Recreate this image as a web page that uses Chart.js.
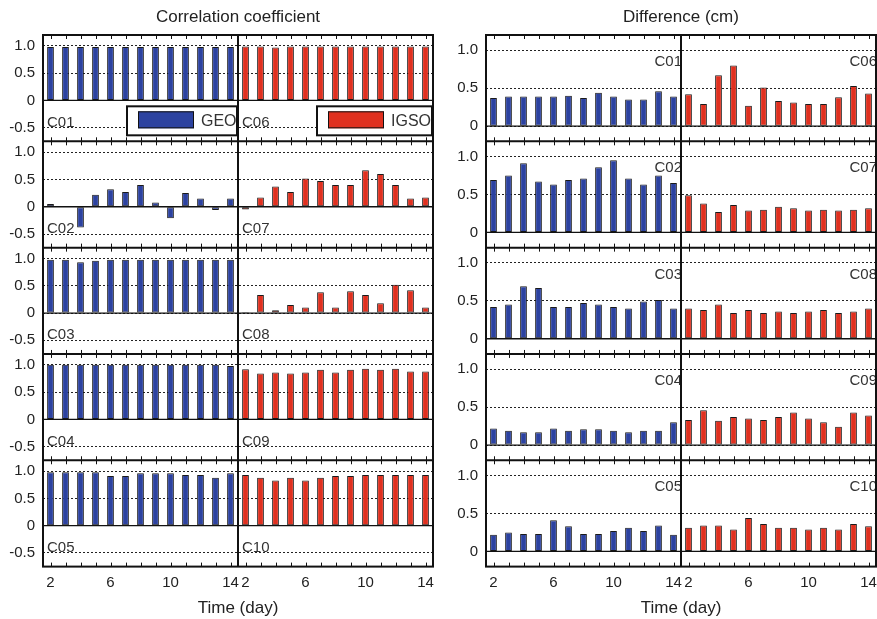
<!DOCTYPE html>
<html>
<head>
<meta charset="utf-8">
<script src="https://cdn.jsdelivr.net/npm/chart.js@4.4.0/dist/chart.umd.min.js"></script>
<style>
  html, body { margin: 0; padding: 0; background: #fff; }
  body { width: 877px; height: 619px; position: relative; overflow: hidden; }
  .panel { position: absolute; top: 0; }
</style>
</head>
<body>
<div class="panel" style="left:0px"><canvas id="corr" width="440" height="619"></canvas></div>
<div class="panel" style="left:442px"><canvas id="diff" width="435" height="619"></canvas></div>
<script>
// Days on the x axis (same for GEO and IGSO halves)
const days = [2, 3, 4, 5, 6, 7, 8, 9, 10, 11, 12, 13, 14];
const xTickDays = [2, 6, 10, 14];
const seriesNames = ["GEO", "IGSO"];
const geoNames = ["C01", "C02", "C03", "C04", "C05"];
const igsoNames = ["C06", "C07", "C08", "C09", "C10"];
const corrTicks = [-0.5, 0, 0.5, 1.0];
const diffTicks = [0, 0.5, 1.0];

// Correlation coefficient
const corrC01 = [0.98, 0.98, 0.98, 0.98, 0.98, 0.98, 0.98, 0.98, 0.98, 0.98, 0.98, 0.98, 0.98];
const corrC02 = [0.05, -0.01, -0.38, 0.22, 0.32, 0.27, 0.40, 0.08, -0.21, 0.25, 0.15, -0.06, 0.15];
const corrC03 = [0.98, 0.98, 0.93, 0.96, 0.98, 0.98, 0.98, 0.98, 0.98, 0.98, 0.98, 0.98, 0.98];
const corrC04 = [1.0, 1.0, 1.0, 1.0, 1.0, 1.0, 1.0, 1.0, 1.0, 1.0, 1.0, 1.0, 0.98];
const corrC05 = [0.98, 0.98, 0.98, 0.98, 0.91, 0.91, 0.96, 0.96, 0.96, 0.93, 0.93, 0.88, 0.96];
const corrC06 = [0.99, 0.99, 0.97, 0.99, 0.99, 0.99, 0.99, 0.99, 0.99, 0.99, 0.99, 0.99, 0.99];
const corrC07 = [-0.05, 0.17, 0.37, 0.27, 0.52, 0.47, 0.40, 0.40, 0.67, 0.60, 0.40, 0.15, 0.17];
const corrC08 = [0.02, 0.33, 0.05, 0.15, 0.10, 0.38, 0.10, 0.40, 0.33, 0.18, 0.52, 0.42, 0.10];
const corrC09 = [0.92, 0.84, 0.86, 0.84, 0.86, 0.91, 0.86, 0.91, 0.93, 0.91, 0.93, 0.88, 0.88];
const corrC10 = [0.93, 0.88, 0.83, 0.88, 0.83, 0.88, 0.91, 0.91, 0.93, 0.93, 0.93, 0.93, 0.93];

// Difference (cm)
const diffC01 = [0.37, 0.39, 0.39, 0.39, 0.39, 0.40, 0.37, 0.44, 0.39, 0.35, 0.35, 0.46, 0.39];
const diffC02 = [0.69, 0.75, 0.91, 0.67, 0.63, 0.69, 0.71, 0.86, 0.95, 0.71, 0.63, 0.75, 0.65];
const diffC03 = [0.42, 0.45, 0.69, 0.67, 0.42, 0.42, 0.47, 0.45, 0.42, 0.40, 0.49, 0.51, 0.40];
const diffC04 = [0.22, 0.19, 0.17, 0.17, 0.22, 0.19, 0.21, 0.21, 0.19, 0.17, 0.19, 0.19, 0.30];
const diffC05 = [0.22, 0.25, 0.23, 0.23, 0.41, 0.33, 0.23, 0.23, 0.27, 0.31, 0.27, 0.34, 0.22];
const diffC06 = [0.42, 0.29, 0.67, 0.80, 0.27, 0.51, 0.33, 0.31, 0.29, 0.29, 0.38, 0.53, 0.43];
const diffC07 = [0.49, 0.38, 0.27, 0.36, 0.29, 0.30, 0.34, 0.32, 0.29, 0.30, 0.29, 0.30, 0.32];
const diffC08 = [0.40, 0.38, 0.45, 0.34, 0.38, 0.34, 0.36, 0.34, 0.36, 0.38, 0.34, 0.36, 0.40];
const diffC09 = [0.33, 0.46, 0.32, 0.37, 0.35, 0.33, 0.37, 0.43, 0.35, 0.30, 0.24, 0.43, 0.39];
const diffC10 = [0.31, 0.34, 0.34, 0.29, 0.44, 0.36, 0.31, 0.31, 0.29, 0.31, 0.29, 0.36, 0.33];

const GEO_COLOR = "#2c42a0";
const IGSO_COLOR = "#e0301f";
const FONT = "'Liberation Sans', Arial, Helvetica, sans-serif";
const rowIds = ["r1", "r2", "r3", "r4", "r5"];

Chart.defaults.font.family = FONT;
Chart.defaults.color = "#222";

function line(ctx, x1, y1, x2, y2) {
  ctx.beginPath();
  ctx.moveTo(x1, y1);
  ctx.lineTo(x2, y2);
  ctx.stroke();
}

// Frame, zero lines, inner day ticks, row labels and legend boxes
const framePlugin = {
  id: "frame",
  afterDatasetsDraw(chart, args, opts) {
    const ctx = chart.ctx;
    const area = chart.chartArea;
    const xG = chart.scales.xG;
    const xI = chart.scales.xI;
    ctx.save();
    ctx.strokeStyle = "#111";

    rowIds.forEach((id, r) => {
      const ys = chart.scales[id];
      const z = ys.getPixelForValue(0);
      ctx.lineWidth = 1.3;
      line(ctx, area.left, z, area.right, z);

      ctx.lineWidth = 1;
      [xG, xI].forEach((xs) => {
        days.forEach((d) => {
          const px = Math.round(xs.getPixelForValue(d)) + 0.5;
          line(ctx, px, ys.top, px, ys.top + 4);
          line(ctx, px, ys.bottom - 4, px, ys.bottom);
        });
      });

      if (r > 0) {
        ctx.lineWidth = 2;
        line(ctx, area.left, ys.top, area.right, ys.top);
      }

      // satellite labels
      ctx.fillStyle = "#333";
      ctx.font = "15px " + FONT;
      ctx.textBaseline = "alphabetic";
      const ly = ys.getPixelForValue(opts.labelValue) - 1;
      if (opts.labelSide === "left") {
        ctx.textAlign = "left";
        ctx.fillText(geoNames[r], xG.left + 4, ly);
        ctx.fillText(igsoNames[r], xI.left + 4, ly);
      } else {
        ctx.textAlign = "right";
        ctx.fillText(geoNames[r], xG.right + 1, ly);
        ctx.fillText(igsoNames[r], xI.right + 1, ly);
      }
    });

    // legend boxes in the first row
    if (opts.legend) {
      const ys = chart.scales[rowIds[0]];
      const boxes = [
        { xs: xG, w: 110, name: seriesNames[0], color: GEO_COLOR },
        { xs: xI, w: 115, name: seriesNames[1], color: IGSO_COLOR },
      ];
      boxes.forEach((b) => {
        const right = b.xs.right - 1;
        const bottom = ys.bottom - 6;
        const left = right - b.w;
        const top = bottom - 29;
        ctx.fillStyle = "#fff";
        ctx.fillRect(left, top, b.w, 29);
        ctx.lineWidth = 2;
        ctx.strokeStyle = "#111";
        ctx.strokeRect(left, top, b.w, 29);
        ctx.fillStyle = b.color;
        ctx.fillRect(left + 11, top + 5, 56, 17);
        ctx.lineWidth = 1;
        ctx.strokeRect(left + 11.5, top + 5.5, 55, 16);
        ctx.fillStyle = "#333";
        ctx.font = "16px " + FONT;
        ctx.textAlign = "left";
        ctx.textBaseline = "middle";
        ctx.fillText(b.name, left + 74, top + 15);
      });
    }

    // outer frame and GEO/IGSO divider
    ctx.strokeStyle = "#111";
    ctx.lineWidth = 2;
    ctx.strokeRect(area.left, area.top, area.right - area.left, area.bottom - area.top);
    line(ctx, xG.right, area.top, xG.right, area.bottom);
    ctx.restore();
  },
};

function makePanel(canvasId, title, geoRows, igsoRows, yMin, yMax, yTicks, yWidth, padRight, frameOpts) {
  const datasets = [];
  const scales = {};

  // x axes for the two halves, stacked side by side
  ["xG", "xI"].forEach((id) => {
    scales[id] = {
      type: "linear",
      position: "bottom",
      stack: "halves",
      stackWeight: 1,
      offset: false,
      min: 1.5,
      max: 14.5,
      grid: { display: false, drawTicks: false },
      border: { display: false },
      afterBuildTicks: (scale) => {
        scale.ticks = xTickDays.map((v) => ({ value: v }));
      },
      afterFit: (scale) => {
        scale.height = 24;
        scale.paddingLeft = 0;
        scale.paddingRight = 0;
      },
      ticks: {
        autoSkip: false,
        maxRotation: 0,
        padding: 7,
        font: { size: 15 },
        color: "#222",
        callback: (v) => String(v),
      },
    };
  });

  // y axes for the five rows, stacked vertically
  rowIds.forEach((id, r) => {
    scales[id] = {
      type: "linear",
      position: "left",
      stack: "rows",
      stackWeight: 1,
      weight: rowIds.length - r,
      offset: false,
      min: yMin,
      max: yMax,
      afterBuildTicks: (scale) => {
        scale.ticks = yTicks.map((v) => ({ value: v }));
      },
      afterFit: (scale) => {
        scale.width = yWidth;
        scale.paddingTop = 0;
        scale.paddingBottom = 0;
      },
      grid: { color: "#222", lineWidth: 1, drawTicks: false },
      border: { display: false, dash: [2, 2] },
      ticks: {
        autoSkip: false,
        padding: 8,
        font: { size: 15 },
        color: "#222",
        callback: (v) => (v === 0 ? "0" : v.toFixed(1)),
      },
    };

    datasets.push({
      label: seriesNames[0] + " " + geoNames[r],
      data: days.map((d, i) => ({ x: d, y: geoRows[r][i] })),
      xAxisID: "xG",
      yAxisID: id,
      backgroundColor: GEO_COLOR,
      borderColor: "#1a1a1a",
      borderWidth: 1,
      borderSkipped: false,
    });
    datasets.push({
      label: seriesNames[1] + " " + igsoNames[r],
      data: days.map((d, i) => ({ x: d, y: igsoRows[r][i] })),
      xAxisID: "xI",
      yAxisID: id,
      backgroundColor: IGSO_COLOR,
      borderColor: "#1a1a1a",
      borderWidth: 1,
      borderSkipped: false,
    });
  });

  return new Chart(document.getElementById(canvasId), {
    type: "bar",
    data: { datasets },
    options: {
      responsive: false,
      animation: false,
      devicePixelRatio: 1,
      grouped: false,
      barPercentage: 0.45,
      categoryPercentage: 1,
      layout: { padding: { left: 0, right: padRight, top: 0, bottom: 0 } },
      scales,
      plugins: {
        legend: { display: false },
        tooltip: { enabled: false },
        title: {
          display: true,
          text: title,
          fullSize: false,
          color: "#222",
          font: { size: 17, weight: "normal" },
          padding: { top: 7, bottom: 7.6 },
        },
        subtitle: {
          display: true,
          text: "Time (day)",
          position: "bottom",
          fullSize: false,
          color: "#222",
          font: { size: 17, weight: "normal" },
          padding: { top: 8, bottom: 0 },
        },
        frame: frameOpts,
      },
    },
    plugins: [framePlugin],
  });
}

makePanel("corr", "Correlation coefficient",
  [corrC01, corrC02, corrC03, corrC04, corrC05],
  [corrC06, corrC07, corrC08, corrC09, corrC10],
  -0.75, 1.2, corrTicks, 43, 7,
  { labelSide: "left", labelValue: -0.5, legend: true });

makePanel("diff", "Difference (cm)",
  [diffC01, diffC02, diffC03, diffC04, diffC05],
  [diffC06, diffC07, diffC08, diffC09, diffC10],
  -0.2, 1.2, diffTicks, 44, 1,
  { labelSide: "right", labelValue: 0.78, legend: false });
</script>
</body>
</html>
